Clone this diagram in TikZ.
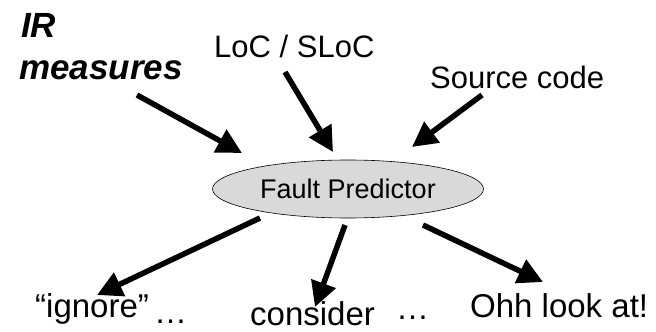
\documentclass[tikz,border=0pt]{standalone}
\usepackage{fontspec}
\setmainfont{Liberation Sans}
\usetikzlibrary{arrows.meta,shapes.geometric}
\begin{document}
\begin{tikzpicture}[x=1pt,y=-1pt,
  lbl/.style={anchor=base west,inner sep=0pt,font=\fontsize{31}{36}\selectfont},
  botlbl/.style={anchor=base west,inner sep=0pt,font=\fontsize{33}{38}\selectfont},
  irlbl/.style={anchor=base west,inner sep=0pt,font=\fontsize{35}{40}\selectfont\bfseries\itshape},
  bigarrow/.style={line width=5.5pt,-{Triangle[length=25pt,width=25pt]}},
  fpbox/.style={ellipse,draw=black,line width=0.6pt,fill=gray!30,minimum width=271pt,minimum height=58pt,inner sep=0pt,font=\fontsize{27}{32}\selectfont}]
\useasboundingbox (0,0) rectangle (656,332);
\node[irlbl] (ir) at (21,37) {IR};
\node[irlbl] (meas) at (19,79) {measures};
\node[lbl] (loc) at (214,57) {LoC / SLoC};
\node[lbl] (src) at (430,88) {Source code};
\node[fpbox] (fp) at (348,189) {Fault Predictor};
\node[botlbl] (ign) at (35,317) {“ignore”};
\node[botlbl] (dots1) at (154,323) {…};
\node[botlbl] (cons) at (250,325) {consider};
\node[botlbl] (dots2) at (396,319) {…};
\node[botlbl] (ohh) at (470,317) {Ohh look at!};
\coordinate (t1) at (137,95);  \coordinate (h1) at (242,153);
\coordinate (t2) at (285,72);  \coordinate (h2) at (333,152);
\coordinate (t3) at (482,95);  \coordinate (h3) at (412,147);
\coordinate (t4) at (260,218); \coordinate (h4) at (97,295);
\coordinate (t5) at (345,225); \coordinate (h5) at (315,307);
\coordinate (t6) at (423,225); \coordinate (h6) at (543,282);
\draw[bigarrow] (t1) -- (h1);
\draw[bigarrow] (t2) -- (h2);
\draw[bigarrow] (t3) -- (h3);
\draw[bigarrow] (t4) -- (h4);
\draw[bigarrow] (t5) -- (h5);
\draw[bigarrow] (t6) -- (h6);
\end{tikzpicture}
\end{document}
